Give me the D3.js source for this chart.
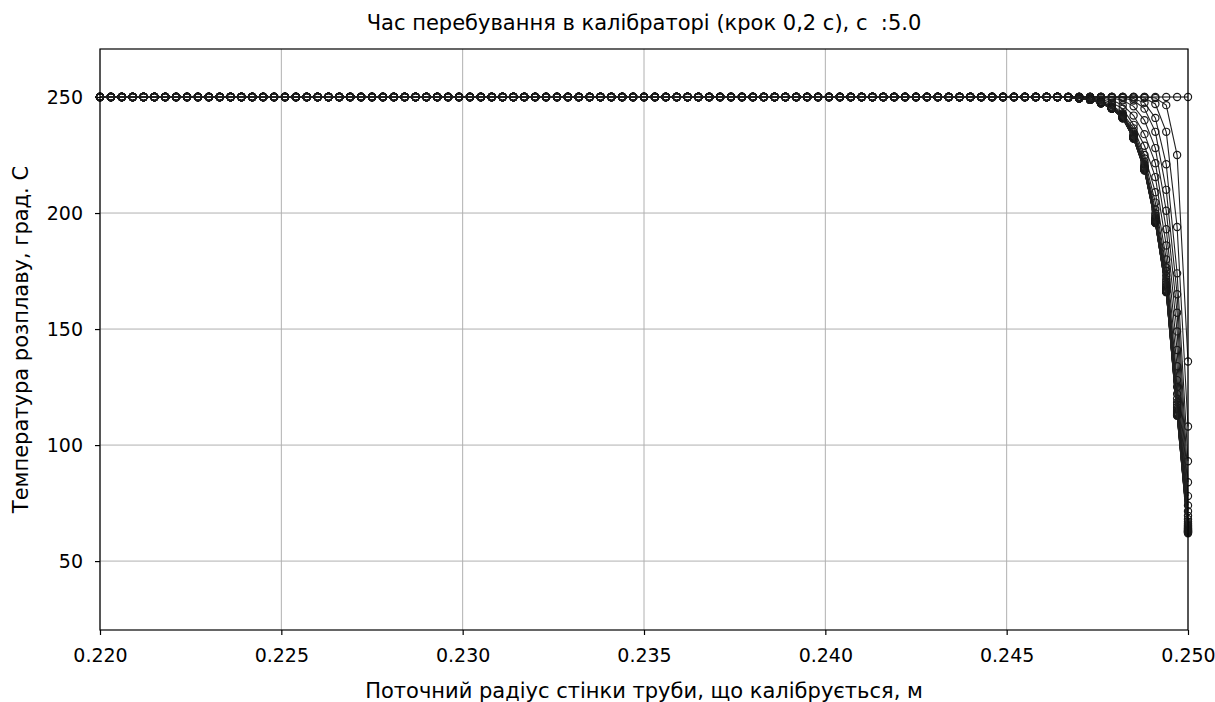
<!DOCTYPE html>
<html>
<head>
<meta charset="utf-8">
<script src="https://cdn.jsdelivr.net/npm/d3@7"></script>
<style>
  html, body { margin: 0; padding: 0; background: #fff; }
  text { font-family: "DejaVu Sans", sans-serif; fill: #000; }
</style>
</head>
<body>
<div id="chart"></div>
<script>
// temperature profiles across the pipe wall, one curve per time step of 0.2 s
const meltTemp = 250; // initial melt temperature, flat part of every profile
const radiusStart = 0.22, radiusStep = 0.0003, nodeCount = 101; // mesh across the wall
const timeSteps = [0, 0.2, 0.4, 0.6, 0.8, 1.0, 1.2, 1.4, 1.6, 1.8, 2.0, 2.2, 2.4,
  2.6, 2.8, 3.0, 3.2, 3.4, 3.6, 3.8, 4.0, 4.2, 4.4, 4.6, 4.8, 5.0];
// last nodes of each profile (towards the cooled wall at r = 0.250)
const wallTails = [
  [],
  [249.6, 246.5, 225, 136],
  [249.6, 247, 235, 194, 108],
  [249.4, 247.5, 241, 221, 174, 93],
  [249.6, 248.5, 245, 235, 210, 165, 84],
  [249.6, 248.6, 246, 240, 228, 201, 157, 78],
  [249.6, 248.7, 246.5, 242, 234, 221.5, 193, 149, 74],
  [249.7, 249, 247.5, 245, 238, 229, 215.5, 186, 141, 71.5],
  [249.8, 249.4, 248.5, 246.6, 243, 236.5, 225, 209, 180, 134, 69.5],
  [249.7, 249.2, 248.1, 245.9, 242.6, 235.0, 223.5, 204.5, 176.5, 128.0, 68.0],
  [249.9, 249.6, 249.1, 247.9, 245.6, 242.3, 234.2, 222.0, 201.5, 175.0, 125.0, 67.0],
  [249.9, 249.6, 249.0, 247.8, 245.4, 242.0, 233.7, 221.0, 199.8, 173.0, 122.0, 66.2],
  [249.9, 249.6, 249.0, 247.7, 245.3, 241.8, 233.3, 220.4, 198.8, 171.5, 120.0, 65.6],
  [249.9, 249.6, 248.9, 247.6, 245.2, 241.6, 233.1, 220.0, 198.1, 170.3, 118.5, 65.1],
  [249.9, 249.5, 248.9, 247.6, 245.2, 241.5, 232.9, 219.7, 197.6, 169.3, 117.3, 64.7],
  [249.9, 249.5, 248.9, 247.5, 245.1, 241.4, 232.8, 219.5, 197.2, 168.5, 116.3, 64.3],
  [249.9, 249.5, 248.9, 247.5, 245.1, 241.3, 232.7, 219.3, 196.9, 167.9, 115.5, 64.0],
  [249.9, 249.5, 248.8, 247.5, 245.1, 241.2, 232.6, 219.1, 196.7, 167.4, 114.9, 63.7],
  [249.9, 249.5, 248.8, 247.4, 245.1, 241.1, 232.5, 219.0, 196.5, 167.0, 114.4, 63.4],
  [249.9, 249.5, 248.8, 247.4, 245.0, 241.1, 232.4, 218.9, 196.3, 166.7, 114.0, 63.2],
  [249.9, 249.5, 248.8, 247.4, 245.0, 241.0, 232.3, 218.8, 196.2, 166.5, 113.7, 63.0],
  [249.8, 249.5, 248.8, 247.4, 245.0, 241.0, 232.3, 218.7, 196.1, 166.3, 113.4, 62.8],
  [249.8, 249.5, 248.8, 247.3, 245.0, 240.9, 232.2, 218.6, 196.0, 166.2, 113.2, 62.6],
  [249.8, 249.5, 248.8, 247.3, 245.0, 240.9, 232.2, 218.5, 195.9, 166.1, 113.0, 62.4],
  [249.8, 249.5, 248.8, 247.3, 245.0, 240.8, 232.1, 218.4, 195.8, 166.0, 112.8, 62.2],
  [249.8, 249.5, 248.8, 247.3, 245.0, 240.8, 232.1, 218.3, 195.7, 165.9, 112.6, 62.0]
];
const xTicks = [0.220, 0.225, 0.230, 0.235, 0.240, 0.245, 0.250];
const yTicks = [50, 100, 150, 200, 250];

const titleText = "Час перебування в калібраторі (крок 0,2 с), с  :" + timeSteps[timeSteps.length - 1].toFixed(1);
const xLabel = "Поточний радіус стінки труби, що калібрується, м";
const yLabel = "Температура розплаву, град. С";

const W = 1215, H = 702;
const margin = { top: 49, right: 27, bottom: 72, left: 100 },
  width = W - margin.left - margin.right,
  height = H - margin.top - margin.bottom;

const svg = d3.select("#chart").append("svg")
  .attr("width", W).attr("height", H);

const g = svg.append("g").attr("transform", `translate(${margin.left},${margin.top})`);

const x = d3.scaleLinear().domain([0.220, 0.250]).range([0, width]);
const y = d3.scaleLinear().domain([20.3, 270.7]).range([height, 0]);

// grid
g.append("g").selectAll("line").data(xTicks).join("line")
  .attr("x1", d => x(d)).attr("x2", d => x(d))
  .attr("y1", 0).attr("y2", height)
  .attr("stroke", "#b0b0b0").attr("stroke-width", 1);
g.append("g").selectAll("line").data(yTicks).join("line")
  .attr("x1", 0).attr("x2", width)
  .attr("y1", d => y(d)).attr("y2", d => y(d))
  .attr("stroke", "#b0b0b0").attr("stroke-width", 1);

// axes
const xAxis = g.append("g").attr("transform", `translate(0,${height})`)
  .call(d3.axisBottom(x).tickValues(xTicks).tickFormat(d3.format(".3f")).tickSize(5).tickPadding(14));
const yAxis = g.append("g")
  .call(d3.axisLeft(y).tickValues(yTicks).tickSize(5).tickPadding(12));
[xAxis, yAxis].forEach(a => {
  a.select(".domain").remove();
  a.selectAll("line").attr("stroke", "#000").attr("stroke-width", 1.2);
  a.selectAll("text").style("font-size", "19px").style("font-family", "DejaVu Sans");
});

// profiles
const radius = d3.range(nodeCount).map(i => radiusStart + i * radiusStep);
const profiles = wallTails.map(tail => radius.map((r, i) => {
  const j = i - (nodeCount - tail.length);
  return { r: r, t: j >= 0 ? tail[j] : meltTemp };
}));

const line = d3.line().x(d => x(d.r)).y(d => y(d.t));
const curves = g.append("g");
profiles.forEach(p => {
  const c = curves.append("g");
  c.append("path").datum(p).attr("d", line)
    .attr("fill", "none").attr("stroke", "#222").attr("stroke-width", 1.1);
  c.selectAll("circle").data(p).join("circle")
    .attr("cx", d => x(d.r)).attr("cy", d => y(d.t)).attr("r", 3.6)
    .attr("fill", "none").attr("stroke", "#1a1a1a").attr("stroke-width", 1.2);
});

// frame
g.append("rect").attr("width", width).attr("height", height)
  .attr("fill", "none").attr("stroke", "#000").attr("stroke-width", 1.2);

// labels
svg.append("text").attr("x", margin.left + width / 2).attr("y", 30)
  .attr("text-anchor", "middle").style("font-size", "21px").style("white-space", "pre")
  .text(titleText);
svg.append("text").attr("x", margin.left + width / 2).attr("y", 698)
  .attr("text-anchor", "middle").style("font-size", "21px")
  .text(xLabel);
svg.append("text").attr("transform", `translate(28,${margin.top + height / 2}) rotate(-90)`)
  .attr("text-anchor", "middle").style("font-size", "21px")
  .text(yLabel);
</script>
</body>
</html>
